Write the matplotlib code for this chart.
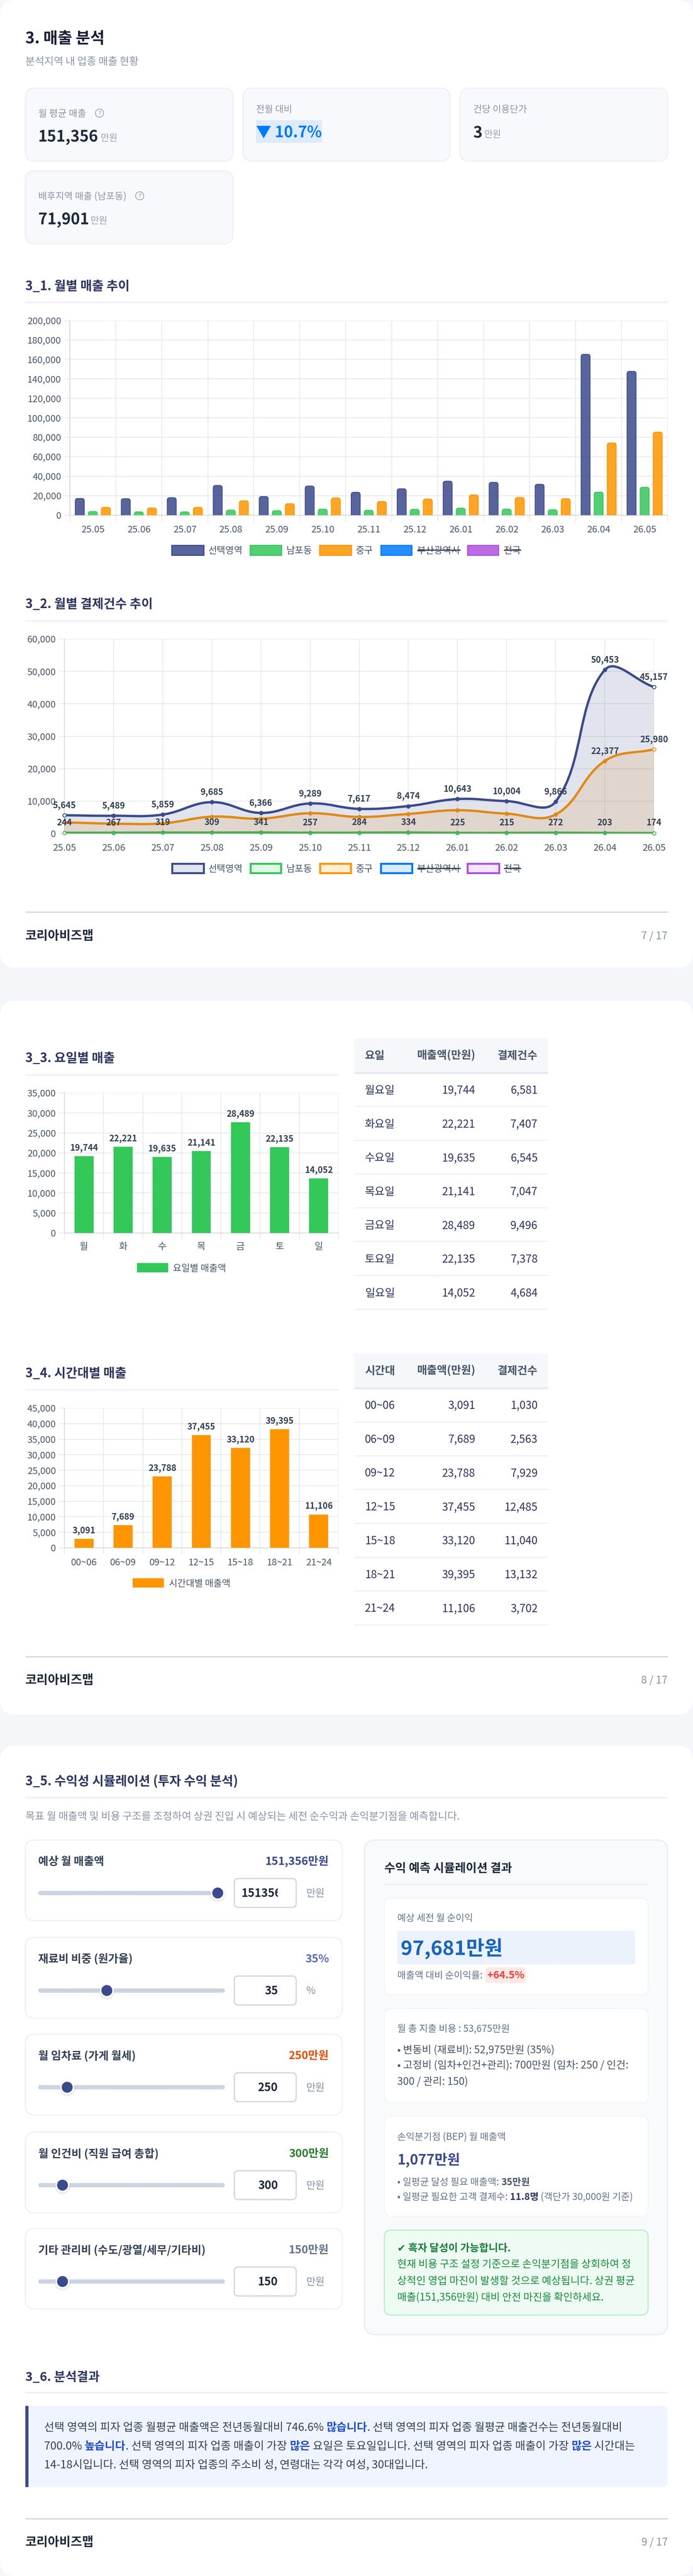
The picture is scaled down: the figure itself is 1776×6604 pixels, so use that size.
import numpy as np
import matplotlib
matplotlib.use('Agg')
import matplotlib.pyplot as plt
from matplotlib.font_manager import FontProperties
from matplotlib.patches import FancyBboxPatch, PathPatch, Rectangle, Circle
from matplotlib.path import Path

plt.rcParams['font.family'] = ['Noto Sans CJK KR', 'DejaVu Sans']

W, H = 1776, 6604

# monthly sales
months = ['25.05', '25.06', '25.07', '25.08', '25.09', '25.10', '25.11', '25.12',
          '26.01', '26.02', '26.03', '26.04', '26.05']
sales_selected = [17150, 16950, 17950, 30500, 19140, 29900, 23500, 27100, 34900, 33700, 31700, 165300, 147800]
sales_nampo = [3800, 3400, 3400, 5200, 4600, 6200, 5000, 6000, 7200, 6200, 5600, 23700, 28700]
sales_junggu = [8000, 7400, 8000, 14800, 11800, 17700, 14000, 16600, 20700, 18100, 16950, 74200, 85300]

# monthly payment counts
count_selected = [5645, 5489, 5859, 9685, 6366, 9289, 7617, 8474, 10643, 10004, 9866, 50453, 45157]
count_nampo = [244, 267, 319, 309, 341, 257, 284, 334, 225, 215, 272, 203, 174]
count_junggu = [3450, 3065, 3140, 5210, 4600, 6280, 5130, 6050, 7200, 6130, 5900, 22377, 25980]

legend_names = ['선택영역', '남포동', '중구', '부산광역시', '전국']
legend_colors = ['#3b4a8c', '#34c759', '#ff9500', '#007aff', '#af52de']

# weekday
days = ['월', '화', '수', '목', '금', '토', '일']
day_names = ['월요일', '화요일', '수요일', '목요일', '금요일', '토요일', '일요일']
day_bars = [19208, 21560, 19040, 20496, 27664, 21448, 13608]
day_sales = [19744, 22221, 19635, 21141, 28489, 22135, 14052]
day_counts = [6581, 7407, 6545, 7047, 9496, 7378, 4684]

# time of day
hours = ['00~06', '06~09', '09~12', '12~15', '15~18', '18~21', '21~24']
hour_bars = [2906, 7309, 22984, 36282, 32143, 38219, 10743]
hour_sales = [3091, 7689, 23788, 37455, 33120, 39395, 11106]
hour_counts = [1030, 2563, 7929, 12485, 11040, 13132, 3702]

# simulator
slider_labels = ['예상 월 매출액', '재료비 비중 (원가율)', '월 임차료 (가게 월세)',
                 '월 인건비 (직원 급여 총합)', '기타 관리비 (수도/광열/세무/기타비)']
slider_label_ends = [267, 340, 348, 407, 527]
slider_texts = ['151,356만원', '35%', '250만원', '300만원', '150만원']
slider_colors = ['#3b4a8c', '#5c6bc0', '#e65100', '#2e7d32', '#64748b']
slider_inputs = ['151356', '35', '250', '300', '150']
slider_units = ['만원', '%', '만원', '만원', '만원']
slider_fraction = [1.0, 0.357, 0.127, 0.10, 0.10]

fig = plt.figure(figsize=(W / 100, H / 100), dpi=100, facecolor='#f5f6fa')
bg = fig.add_axes([0, 0, 1, 1], zorder=0)
bg.set_xlim(0, W)
bg.set_ylim(H, 0)
bg.axis('off')
renderer = fig.canvas.get_renderer()

INK = '#1e293b'
NAVY = '#2d3561'
SLATE = '#475569'
GREY = '#8b95a7'
GRID = '#e8e8ea'
AXIS = '#d6d6d8'


def box(x0, y0, x1, y1, fc='white', ec='none', lw=0, r=0, z=1):
    if r > 0:
        p = FancyBboxPatch((x0, y0), x1 - x0, y1 - y0, boxstyle=f'round,pad=0,rounding_size={r}',
                           fc=fc, ec=ec, lw=lw * 0.72, zorder=z)
    else:
        p = Rectangle((x0, y0), x1 - x0, y1 - y0, fc=fc, ec=ec, lw=lw * 0.72, zorder=z)
    bg.add_patch(p)
    return p


def hline(x0, x1, y, color, lw=3, z=2):
    bg.plot([x0, x1], [y, y], color=color, lw=lw * 0.72, solid_capstyle='butt', zorder=z)


def text_w(s, px, weight='normal'):
    fp = FontProperties(family=['Noto Sans CJK KR', 'DejaVu Sans'], size=px * 0.72, weight=weight)
    a = renderer.get_text_width_height_descent('|' + s + '|', fp, False)[0]
    b = renderer.get_text_width_height_descent('||', fp, False)[0]
    return a - b


def txt(x, y, s, px, color=INK, weight='normal', ha='left', z=5, end=None):
    if end is not None:
        px = px * (end - x) / text_w(s, px, weight)
    return bg.text(x, y + 0.36 * px, s, fontsize=px * 0.72, color=color, fontweight=weight,
                   ha=ha, va='baseline', zorder=z)


def rich(x, y, parts, px, z=5, end=None):
    if end is not None:
        total = sum(text_w(s, px, weight) for s, _, weight in parts)
        px = px * (end - x) / total
    for s, color, weight in parts:
        txt(x, y, s, px, color, weight, z=z)
        x += text_w(s, px, weight)


def add_chart(left, top, right, bottom):
    ax = fig.add_axes([left / W, 1 - bottom / H, (right - left) / W, (bottom - top) / H], zorder=3)
    ax.patch.set_alpha(0)
    for s in ['top', 'right']:
        ax.spines[s].set_visible(False)
    for s in ['left', 'bottom']:
        ax.spines[s].set_color(AXIS)
        ax.spines[s].set_linewidth(2 * 0.72)
    ax.set_axisbelow(True)
    return ax


def style_y(ax, ymax, step):
    ticks = list(range(0, ymax + 1, step))
    ax.set_ylim(0, ymax)
    ax.set_yticks(ticks)
    ax.set_yticklabels([f'{v:,}' for v in ticks], fontsize=24 * 0.72, color=SLATE)
    ax.tick_params(axis='y', length=14 * 0.72, width=2 * 0.72, color=GRID, pad=8 * 0.72)
    ax.grid(axis='y', which='major', color=GRID, lw=2 * 0.72)


def style_cat_x(ax, labels, tick_px, pad_px):
    n = len(labels)
    ax.set_xlim(0, n)
    ax.set_xticks(np.arange(n) + 0.5)
    ax.set_xticklabels(labels, fontsize=24 * 0.72, color=SLATE)
    ax.set_xticks(np.arange(n + 1), minor=True)
    ax.tick_params(axis='x', which='major', length=0, pad=pad_px * 0.72)
    ax.tick_params(axis='x', which='minor', length=tick_px * 0.72, width=2 * 0.72, color=GRID)
    ax.grid(axis='x', which='minor', color=GRID, lw=2 * 0.72)


def round_bar(ax, x, w, h, color, ppx, ppy, r=6):
    # bar with rounded top corners, r given in pixels
    rx, ry = r / ppx, r / ppy
    x0, x1 = x - w / 2, x + w / 2
    verts = [(x0, 0), (x0, h - ry), (x0, h), (x0 + rx, h), (x1 - rx, h), (x1, h), (x1, h - ry), (x1, 0)]
    codes = [Path.MOVETO, Path.LINETO, Path.CURVE3, Path.CURVE3, Path.LINETO, Path.CURVE3, Path.CURVE3, Path.LINETO]
    ax.add_patch(PathPatch(Path(verts + [(x0, 0)], codes + [Path.CLOSEPOLY]), fc=color, ec='none', alpha=0.85, zorder=3))
    ax.add_patch(PathPatch(Path(verts, codes), fc='none', ec=color, lw=2 * 0.72, zorder=4))


def spline_path(values, ppx, ppy, tension=0.4):
    # same cubic as the chart's line element, worked out in pixels
    pts = np.column_stack([np.arange(len(values)) * ppx, np.array(values, float) * ppy])
    verts = [tuple(pts[0])]
    codes = [Path.MOVETO]
    n = len(pts)
    ctrl_out = [None] * n
    ctrl_in = [None] * n
    for i in range(n):
        prev = pts[max(i - 1, 0)]
        nxt = pts[min(i + 1, n - 1)]
        d01 = np.hypot(*(pts[i] - prev))
        d12 = np.hypot(*(nxt - pts[i]))
        s01 = d01 / (d01 + d12)
        s12 = d12 / (d01 + d12)
        ctrl_in[i] = pts[i] - tension * s01 * (nxt - prev)
        ctrl_out[i] = pts[i] + tension * s12 * (nxt - prev)
    for i in range(n - 1):
        verts += [tuple(ctrl_out[i]), tuple(ctrl_in[i + 1]), tuple(pts[i + 1])]
        codes += [Path.CURVE4] * 3
    v = np.array(verts)
    v[:, 0] /= ppx
    v[:, 1] /= ppy
    return v, codes


def section(y, s, end, x1=1711, line_y=None):
    txt(65, y, s, 32, NAVY, 'bold', end=end)
    hline(65, x1, line_y, '#f0f1f5', 4)


def footer(line_y, text_y, page):
    hline(65, 1711, line_y, '#cbd5e1', 3)
    txt(65, text_y, '코리아비즈맵', 32, INK, 'bold', end=240)
    txt(1711, text_y, page, 27, '#8493a8', ha='right')


def legend_row(y0, y1, text_y, boxes, texts, line_style=False):
    for i, name in enumerate(legend_names):
        c = legend_colors[i]
        if line_style:
            face = matplotlib.colors.to_rgba(c, 0.15)
            box(boxes[i][0], y0, boxes[i][1], y1, fc=face, ec=c, lw=5, z=4)
        else:
            face = matplotlib.colors.to_rgba(c, 0.85)
            box(boxes[i][0], y0, boxes[i][1], y1, fc=face, ec=c, lw=3, z=4)
        txt(texts[i], text_y, name, 24, SLATE)
        if i >= 3:
            w = text_w(name, 24)
            hline(texts[i], texts[i] + w, text_y, '#334155', 3, z=6)


# white pages
box(0, 0, W, 2480, r=40)
box(0, 2566, W, 4396, r=40)
box(0, 4475, W, 6604, r=40)

# header
txt(65, 97, '3. 매출 분석', 40, '#1a1f36', 'bold', end=268)
txt(65, 156, '분석지역 내 업종 매출 현황', 27, GREY, end=356)


def metric(x0, x1, y0, y1):
    box(x0, y0, x1, y1, fc='#f8f9fc', ec='#eef0f5', lw=3, r=24)


def help_icon(x, y):
    bg.add_patch(Circle((x, y), 10.5, fc='none', ec='#8b95a7', lw=1.6 * 0.72, zorder=5))
    txt(x, y, '?', 15, GREY, ha='center')


metric(65, 597, 226, 413)
metric(623, 1153, 226, 413)
metric(1179, 1711, 226, 413)
metric(65, 597, 438, 625)

txt(98, 290, '월 평균 매출', 24, GREY, end=221)
help_icon(255, 290)
txt(98, 349, '151,356', 40, INK, 'bold', end=252)
txt(258, 352, '만원', 24, '#9aa3b2')

txt(656, 279, '전월 대비', 24, GREY, end=749)
box(656, 308, 825, 366, fc='#deebfc', z=2)
txt(656, 338, '▼ 10.7%', 42, '#007aff', 'bold', end=825)

txt(1213, 279, '건당 이용단가', 24, GREY, end=1351)
txt(1213, 339, '3', 40, INK, 'bold')
txt(1241, 343, '만원', 24, '#9aa3b2')

txt(98, 502, '배후지역 매출 (남포동)', 24, GREY, end=325)
help_icon(358, 502)
txt(98, 561, '71,901', 40, INK, 'bold', end=228)
txt(232, 564, '만원', 24, '#9aa3b2')

# 3_1
section(732, '3_1. 월별 매출 추이', 332, line_y=775)
ax1 = add_chart(179, 821.7, 1711, 1320.7)
style_y(ax1, 200000, 20000)
style_cat_x(ax1, months, 16, 26)
ppx1 = (1711 - 179) / 13
ppy1 = (1320.7 - 821.7) / 200000
for series, off, c in zip([sales_selected, sales_nampo, sales_junggu], [-0.284, 0, 0.284], legend_colors):
    for i, v in enumerate(series):
        round_bar(ax1, i + 0.5 + off, 0.195, v, c, ppx1, ppy1)
legend_row(1398, 1423, 1410, [(440, 522), (641, 721), (819, 900), (976, 1055), (1198, 1277)],
           [534, 734, 912, 1069, 1291])

# 3_2
section(1547, '3_2. 월별 결제건수 추이', 391, line_y=1592)
ax2 = add_chart(165, 1638, 1676, 2137)
style_y(ax2, 60000, 10000)
ax2.set_xlim(0, 12)
ax2.set_xticks(range(13))
ax2.set_xticklabels(months, fontsize=24 * 0.72, color=SLATE)
ax2.tick_params(axis='x', length=14 * 0.72, width=2 * 0.72, color=GRID, pad=12 * 0.72)
ax2.grid(axis='x', color=GRID, lw=2 * 0.72)
ppx2 = (1676 - 165) / 12
ppy2 = (2137 - 1638) / 60000
line_series = [(count_nampo, legend_colors[1]), (count_junggu, legend_colors[2]), (count_selected, legend_colors[0])]
for z, (series, c) in enumerate(line_series):
    v, codes = spline_path(series, ppx2, ppy2)
    fill_v = np.vstack([v, [v[-1, 0], 0], [0, 0], v[0]])
    fill_codes = codes + [Path.LINETO, Path.LINETO, Path.CLOSEPOLY]
    ax2.add_patch(PathPatch(Path(fill_v, fill_codes), fc=c, ec='none', alpha=0.15, zorder=3 + z))
    ax2.add_patch(PathPatch(Path(v, codes), fc='none', ec=c, lw=6 * 0.72, zorder=3 + z, capstyle='butt'))
    xs = np.arange(13)
    ax2.plot(xs[1:-1], series[1:-1], 'o', ms=6.5, mfc=c, mec=c, mew=1.44, clip_on=False, zorder=3 + z)
    ax2.plot(xs[[0, -1]], [series[0], series[-1]], 'o', ms=6.5, mfc='#f4f5f9', mec=c, mew=1.44, clip_on=False, zorder=3 + z)
for i, v in enumerate(count_selected):
    ax2.annotate(f'{v:,}', (i, v), xytext=(0, 13.8), textcoords='offset points', ha='center', va='baseline',
                 fontsize=22 * 0.72, fontweight='bold', color='#334155', zorder=9, annotation_clip=False)
for i, v in enumerate(count_nampo):
    ax2.annotate(f'{v:,}', (i, v), xytext=(0, 13.8), textcoords='offset points', ha='center', va='baseline',
                 fontsize=22 * 0.72, fontweight='bold', color='#334155', zorder=9, annotation_clip=False)
for i in [11, 12]:
    v = count_junggu[i]
    ax2.annotate(f'{v:,}', (i, v), xytext=(0, 13.8), textcoords='offset points', ha='center', va='baseline',
                 fontsize=22 * 0.72, fontweight='bold', color='#334155', zorder=9, annotation_clip=False)
legend_row(2214, 2238, 2226, [(441, 522), (642, 720), (820, 899), (976, 1056), (1198, 1279)],
           [534, 734, 912, 1069, 1291], line_style=True)
footer(2338, 2398, '7 / 17')


def small_bars(ax, labels, bars, sales, color, ymax, step, pad):
    style_y(ax, ymax, step)
    style_cat_x(ax, labels, 16, pad)
    ax.bar(np.arange(7) + 0.5, bars, width=0.486, color=color, zorder=3)
    for i, v in enumerate(bars):
        ax.annotate(f'{sales[i]:,}', (i + 0.5, v), xytext=(0, 10.9), textcoords='offset points', ha='center',
                    va='baseline', fontsize=22 * 0.72, fontweight='bold', color='#334155', zorder=9)


def table(y0, y1, heads, names, sales, counts, text_y, line_y, step):
    box(908, y0, 1405, y1, fc='#f5f7fb', z=2)
    hline(908, 1405, y1, '#e2e8f0', 4)
    mid = (y0 + y1) / 2 - 2
    txt(935, mid, heads[0], 28, SLATE, 'bold')
    txt(1218, mid, heads[1], 28, SLATE, 'bold', ha='right')
    txt(1378, mid, heads[2], 28, SLATE, 'bold', ha='right')
    for i in range(7):
        y = text_y + i * step
        txt(935, y, names[i], 28, NAVY)
        txt(1218, y, f'{sales[i]:,}', 28, NAVY, ha='right')
        txt(1378, y, f'{counts[i]:,}', 28, NAVY, ha='right')
        hline(908, 1405, line_y + i * step, '#f0f1f5', 3)


# 3_3
section(2711, '3_3. 요일별 매출', 294.5, x1=867, line_y=2756)
ax3 = add_chart(165, 2802, 867, 3161)
small_bars(ax3, days, day_bars, day_sales, '#34c759', 35000, 5000, 24)
box(351, 3238, 431, 3262, fc='#34c759', z=4)
txt(443, 3250, '요일별 매출액', 24, SLATE, end=580)
table(2662, 2751, ['요일', '매출액(만원)', '결제건수'], day_names, day_sales, day_counts, 2794, 2836, 86.6)

# 3_4
section(3519, '3_4. 시간대별 매출', 324, x1=867, line_y=3563)
ax4 = add_chart(165, 3610, 867, 3968)
small_bars(ax4, hours, hour_bars, hour_sales, '#ff9500', 45000, 5000, 27)
box(340, 4046, 420, 4070, fc='#ff9500', z=4)
txt(433, 4058, '시간대별 매출액', 24, SLATE, end=591)
table(3470, 3559, ['시간대', '매출액(만원)', '결제건수'], hours, hour_sales, hour_counts, 3602, 3645, 86.7)
footer(4247, 4306, '8 / 17')

# 3_5 sliders
section(4566, '3_5. 수익성 시뮬레이션 (투자 수익 분석)', 610, line_y=4609)
txt(65, 4655, '목표 월 매출액 및 비용 구조를 조정하여 상권 진입 시 예상되는 세전 순수익과 손익분기점을 예측합니다.', 26, GREY, end=1177)

panel_tops = [4717, 4967, 5215, 5466, 5713]
for i in range(5):
    top = panel_tops[i]
    box(65, top, 877, top + 207, ec='#eef0f5', lw=3, r=24)
    txt(98, top + 54, slider_labels[i], 28, '#334155', 'bold', end=slider_label_ends[i])
    txt(843, top + 54, slider_texts[i], 28.5, slider_colors[i], 'bold', ha='right')
    cy = top + 136
    box(98, cy - 5.5, 576, cy + 5.5, fc='#cbd5e1', r=5.5, z=2)
    cx = 98 + 18 + slider_fraction[i] * (478 - 36)
    bg.add_patch(Circle((cx, cy + 3), 20, fc='#64748b', ec='none', alpha=0.12, zorder=3))
    bg.add_patch(Circle((cx, cy), 18, fc='white', ec='none', zorder=3))
    bg.add_patch(Circle((cx, cy), 14, fc='#3b4a8c', ec='none', zorder=4))
    box(600.5, cy - 37, 759, cy + 37, ec='#cbd5e1', lw=3, r=10)
    if i == 0:
        # the box is too narrow for six digits, the last one is cut at its inner edge
        txt(619, cy, slider_inputs[i], 29, INK, 'bold')
        box(712, cy - 26, 752, cy + 26, z=6)
    else:
        txt(712, cy, slider_inputs[i], 29, INK, 'bold', ha='right')
    txt(785, cy, slider_units[i], 26, '#8493a8')

# result panel
box(934, 4717, 1711, 5985, fc='#f8fafc', ec='#e8edf3', lw=3, r=28)
txt(985, 4788, '수익 예측 시뮬레이션 결과', 31, INK, 'bold', end=1312)
hline(985, 1661, 4831, '#e2e8f0', 2)

box(985, 4866, 1661, 5114, ec='#f0f2f6', lw=2, r=18)
txt(1018, 4916, '예상 세전 월 순이익', 24, '#64748b', end=1213)
box(1018, 4950, 1628, 5036, fc='#ebf2fb', r=6, z=2)
txt(1027, 4994, '97,681만원', 52, '#1565c0', 'bold', end=1289)
txt(1018, 5063, '매출액 대비 순이익률:', 24, '#64748b', end=1237)
box(1244, 5043, 1348, 5084, fc='#ffe9e7', r=8, z=2)
txt(1296, 5063, '+64.5%', 26, '#ff3b30', 'bold', ha='center')

box(985, 5149, 1661, 5391, ec='#f0f2f6', lw=2, r=18)
txt(1018, 5200, '월 총 지출 비용 : 53,675만원', 24, '#64748b', end=1307)
txt(1018, 5254, '• 변동비 (재료비): 52,975만원 (35%)', 26, SLATE, end=1421)
txt(1018, 5293, '• 고정비 (임차+인건+관리): 700만원 (임차: 250 / 인건:', 26, SLATE, end=1610)
txt(1018, 5335, '300 / 관리: 150)', 26, SLATE, end=1199)

box(985, 5425, 1661, 5682, ec='#f0f2f6', lw=2, r=18)
txt(1018, 5477, '손익분기점 (BEP) 월 매출액', 24, '#64748b', end=1297)
txt(1018, 5536, '1,077만원', 36, '#3b4a8c', 'bold', end=1179)
rich(1018, 5593, [('• 일평균 달성 필요 매출액: ', '#64748b', 'normal'), ('35만원', '#475569', 'bold')], 24, end=1359)
rich(1018, 5631, [('• 일평균 필요한 고객 결제수: ', '#64748b', 'normal'), ('11.8명', NAVY, 'bold'),
                  (' (객단가 30,000원 기준)', '#64748b', 'normal')], 24, end=1623)

box(985, 5717, 1661, 5935, fc='#eefbf2', ec='#b7efc8', lw=3, r=18)
txt(1018, 5762, '✔ 흑자 달성이 가능합니다.', 26, '#15803d', 'bold', end=1309)
txt(1018, 5804, '현재 비용 구조 설정 기준으로 손익분기점을 상회하여 정', 26, '#15903d', end=1617)
txt(1018, 5846, '상적인 영업 마진이 발생할 것으로 예상됩니다. 상권 평균', 26, '#15903d', end=1626)
txt(1018, 5888, '매출(151,356만원) 대비 안전 마진을 확인하세요.', 26, '#15903d', end=1547)

# 3_6
section(6093, '3_6. 분석결과', 255, line_y=6134)
box(65, 6168, 1711, 6376, fc='#f0f4ff', r=16, z=1)
box(65, 6168, 90, 6376, fc='#f0f4ff', z=1)
box(65, 6168, 73, 6376, fc='#3b4a8c', z=2)
BODY = '#334155'
HI = '#1d4ed8'
rich(113, 6222, [('선택 영역의 피자 업종 월평균 매출액은 전년동월대비 746.6% ', BODY, 'normal'), ('많습니다', HI, 'bold'),
                 ('. 선택 영역의 피자 업종 월평균 매출건수는 전년동월대비', BODY, 'normal')], 28, end=1593)
rich(113, 6270, [('700.0% ', BODY, 'normal'), ('높습니다', HI, 'bold'), ('. 선택 영역의 피자 업종 매출이 가장 ', BODY, 'normal'),
                 ('많은', HI, 'bold'), (' 요일은 토요일입니다. 선택 영역의 피자 업종 매출이 가장 ', BODY, 'normal'),
                 ('많은', HI, 'bold'), (' 시간대는', BODY, 'normal')], 28, end=1626)
txt(113, 6318, '14-18시입니다. 선택 영역의 피자 업종의 주소비 성, 연령대는 각각 여성, 30대입니다.', 28, BODY, end=1096)
footer(6457, 6516, '9 / 17')

fig.savefig('out.png', dpi=100, facecolor=fig.get_facecolor())
